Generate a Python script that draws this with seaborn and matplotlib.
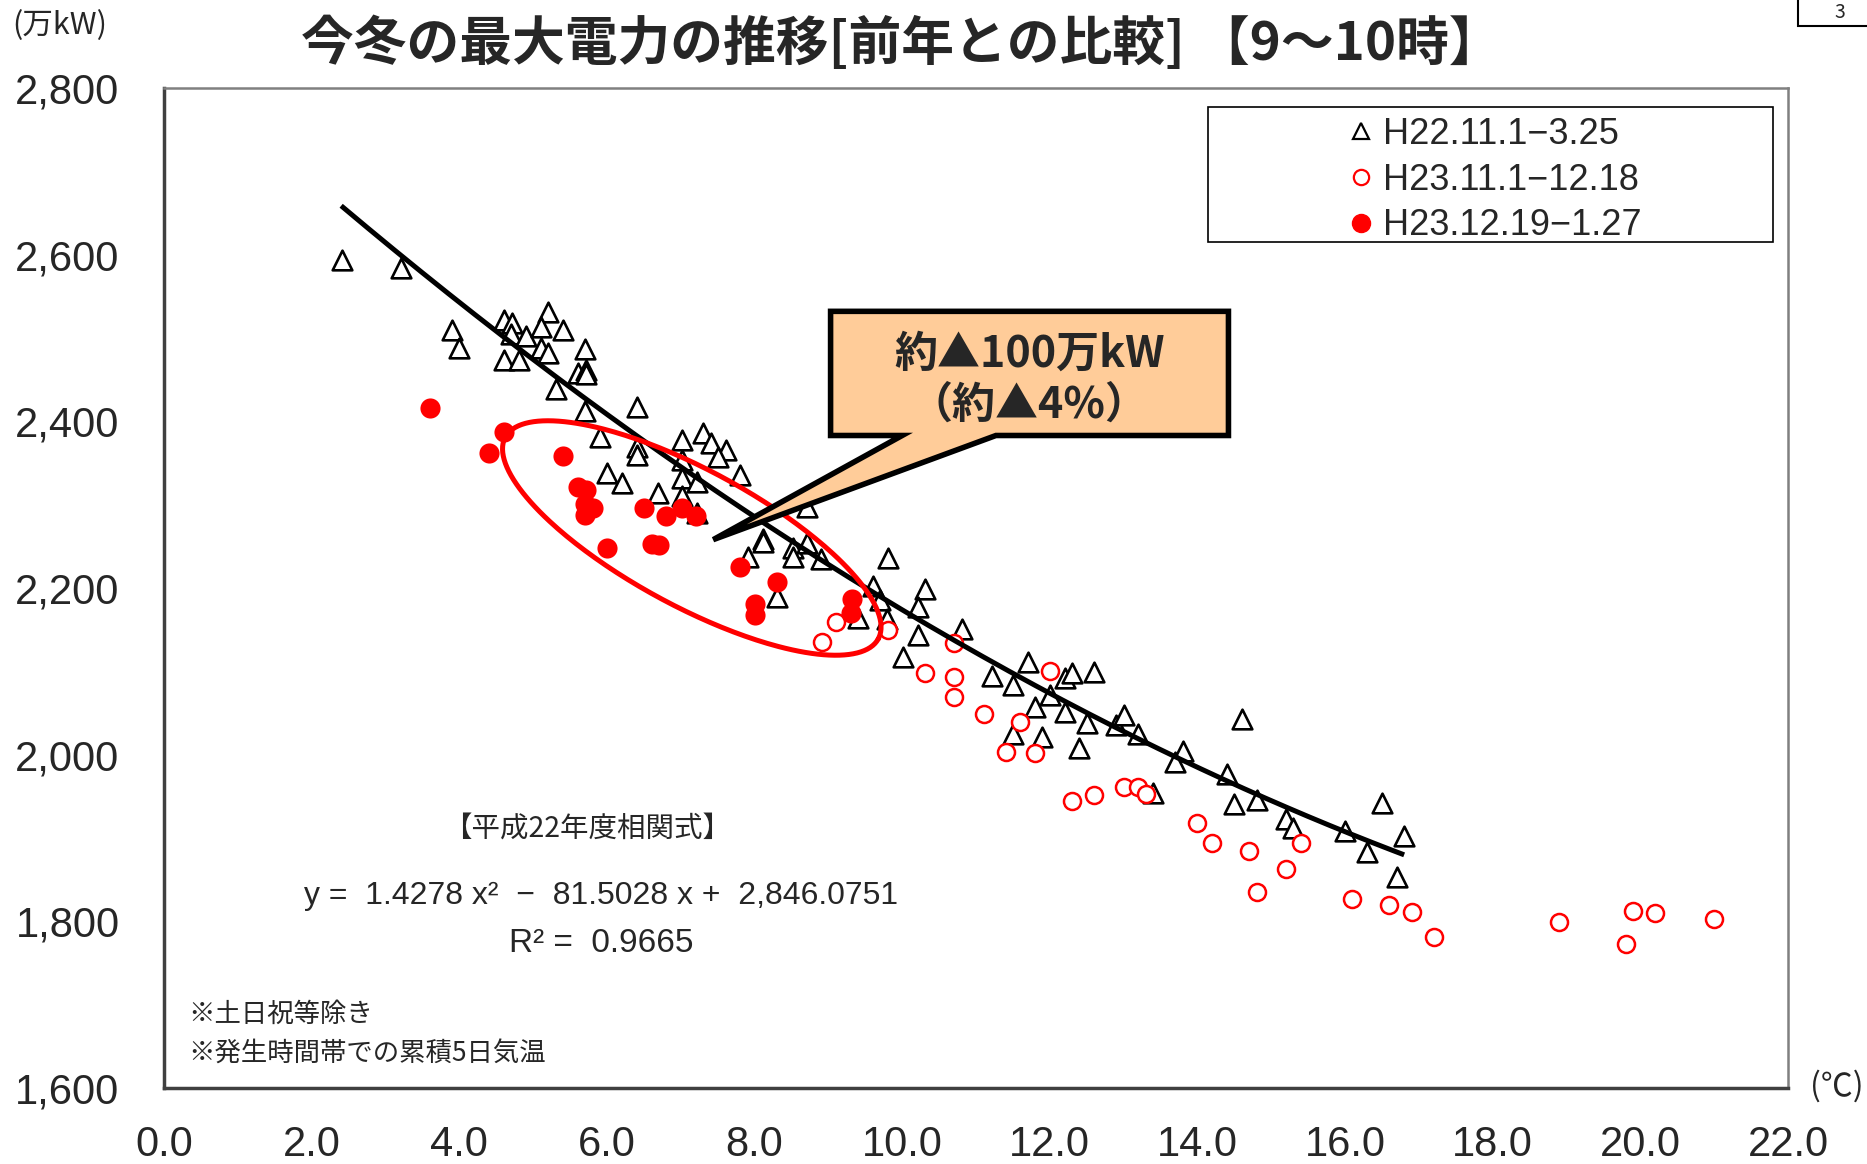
import numpy as np
import pandas as pd
import matplotlib
matplotlib.use("Agg")
import matplotlib.pyplot as plt
import seaborn as sns
from matplotlib.patches import Polygon, Rectangle
from matplotlib.lines import Line2D

# H22.11.1-3.25 (triangles)
h22_temp = [2.41, 3.21, 3.90, 4.00, 4.61, 4.71, 4.61, 4.81, 4.70, 4.91, 5.20, 5.11, 5.41, 5.11,
            5.20, 5.70, 5.61, 5.72, 5.72, 5.31, 5.70, 6.41, 5.91, 6.41, 6.41, 7.02, 7.30, 7.41,
            7.61, 7.50, 7.02, 7.80, 6.00, 6.20, 7.02, 6.69, 7.22, 7.02, 7.22, 8.11, 7.91,
            8.11, 8.52, 8.52, 8.71, 8.90, 8.30, 9.81, 9.61, 9.70, 9.40, 9.80, 10.31, 10.21,
            10.21, 10.01, 10.81, 11.22, 8.71,
            11.70, 11.50, 12.0, 12.2, 12.3, 12.6, 11.8, 12.2, 11.5, 11.9, 12.4, 12.5, 12.9,
            13.0, 13.2, 13.4, 13.8, 13.7, 14.4, 14.5, 14.6, 14.8, 15.2, 15.3, 16.0, 16.3,
            16.5, 16.8, 16.7]
h22_power = [2594, 2584, 2510, 2488, 2522, 2518, 2474, 2474, 2505, 2502, 2531, 2513, 2510, 2488,
             2482, 2487, 2458, 2462, 2457, 2439, 2412, 2417, 2381, 2369, 2360, 2378, 2386, 2374,
             2366, 2357, 2354, 2336, 2338, 2326, 2332, 2314, 2327, 2310, 2290, 2259, 2237,
             2255, 2248, 2237, 2254, 2235, 2189, 2236, 2202, 2186, 2164, 2163, 2199, 2177,
             2144, 2117, 2151, 2094, 2297,
             2111, 2084, 2072, 2092, 2098, 2099, 2057, 2051, 2025, 2021, 2008, 2038, 2036,
             2048, 2025, 1954, 2004, 1991, 1977, 1941, 2043, 1946, 1923, 1912, 1908, 1883,
             1942, 1902, 1853]

# H23.11.1-12.18 (open circles)
h23a_temp = [9.10, 8.91, 9.81, 10.70, 10.31, 10.70, 10.70, 11.11, 12.0, 11.6, 11.4, 11.8, 12.3,
             12.6, 13.0, 13.2, 13.3, 14.0, 14.2, 14.7, 15.4, 15.2, 14.8, 16.1, 16.6, 16.9,
             17.2, 18.9, 19.8, 19.9, 20.2, 21.0]
h23a_power = [2159, 2135, 2150, 2134, 2098, 2093, 2069, 2049, 2100, 2039, 2003, 2002, 1944,
              1952, 1961, 1961, 1953, 1918, 1894, 1884, 1894, 1863, 1835, 1827, 1820, 1811,
              1781, 1799, 1773, 1813, 1810, 1803]

# H23.12.19-1.27 (filled circles)
h23b_temp = [3.60, 4.61, 4.40, 5.41, 5.61, 5.72, 5.70, 5.81, 5.70, 6.50, 6.80, 7.02, 7.21,
             6.00, 6.61, 6.71, 7.80, 8.30, 8.01, 8.01, 9.32, 9.31]
h23b_power = [2416, 2387, 2362, 2359, 2321, 2318, 2301, 2296, 2288, 2296, 2286, 2296, 2286,
              2248, 2253, 2252, 2225, 2207, 2181, 2168, 2187, 2170]

# 平成22年度相関式
coef_a, coef_b, coef_c = 1.4278, -81.5028, 2846.0751
fit_range = (2.4, 16.8)

labels = ["H22.11.1−3.25", "H23.11.1−12.18", "H23.12.19−1.27"]
x_ticks = np.arange(0, 22.1, 2)
y_ticks = np.arange(1600, 2801, 200)

sns.set_theme(style="white")
plt.rcParams['font.family'] = ['Noto Sans CJK JP', 'DejaVu Sans']
num_font = 'Liberation Sans'

W, H = 1867, 1164
fig = plt.figure(figsize=(W / 100, H / 100), dpi=100)
ax = fig.add_axes([164 / W, 1 - 1088 / H, 1624 / W, 1000 / H])

df1 = pd.DataFrame({"temp": h22_temp, "power": h22_power})
df2 = pd.DataFrame({"temp": h23a_temp, "power": h23a_power})
df3 = pd.DataFrame({"temp": h23b_temp, "power": h23b_power})

sns.scatterplot(data=df1, x="temp", y="power", ax=ax, marker="^", s=200,
                color="white", edgecolor="black", linewidth=1.9, zorder=3)
sns.scatterplot(data=df2, x="temp", y="power", ax=ax, marker="o", s=150,
                color="white", edgecolor="red", linewidth=1.8, zorder=4)
sns.scatterplot(data=df3, x="temp", y="power", ax=ax, marker="o", s=210,
                color="red", edgecolor="red", linewidth=0, zorder=5)

xf = np.linspace(fit_range[0], fit_range[1], 200)
ax.plot(xf, coef_a * xf ** 2 + coef_b * xf + coef_c, color="black", lw=3.6,
        solid_capstyle="butt", zorder=6)

ax.set_xlim(0, 22)
ax.set_ylim(1600, 2800)
ax.set_xlabel("")
ax.set_ylabel("")
ax.set_xticks(x_ticks)
ax.set_xticklabels([f"{v:.1f}" for v in x_ticks], fontfamily=num_font, fontsize=30)
ax.set_yticks(y_ticks)
ax.set_yticklabels([f"{v:,}" for v in y_ticks], fontfamily=num_font, fontsize=30)
ax.tick_params(axis="x", direction="in", length=14, width=1.2, color="#404040", pad=27)
ax.tick_params(axis="y", direction="in", length=8, width=1.2, color="#404040", pad=32)
for side in ["left", "bottom"]:
    ax.spines[side].set_color("#404040")
    ax.spines[side].set_linewidth(2.5)
for side in ["top", "right"]:
    ax.spines[side].set_color("#808080")
    ax.spines[side].set_linewidth(1.8)

# red ellipse around the recent cold days
sx, sy = 1624 / 22, 1000 / 1200
cx, cy, ea, eb, th = 7.15, 2260, 212, 68, np.deg2rad(28.4)
t = np.linspace(0, 2 * np.pi, 300)
dxp = ea * np.cos(t) * np.cos(th) - eb * np.sin(t) * np.sin(th)
dyp = ea * np.cos(t) * np.sin(th) + eb * np.sin(t) * np.cos(th)
ax.plot(cx + dxp / sx, cy - dyp / sy, color="red", lw=3.6, zorder=7)

# callout
callout = [(9.03, 2532), (14.42, 2532), (14.42, 2383), (11.27, 2383), (7.44, 2258),
           (10.0, 2383), (9.03, 2383)]
ax.add_patch(Polygon(callout, closed=True, facecolor="#FFCC99", edgecolor="black",
                     lw=4, joinstyle="miter", zorder=8))
ax.text(11.72, 2481, "約▲100万kW", ha="center", va="center", fontsize=31,
        fontweight="bold", zorder=9)
ax.text(11.72, 2420, "（約▲4%）", ha="center", va="center", fontsize=31,
        fontweight="bold", zorder=9)

# legend
ax.add_patch(Rectangle((0.643, 0.846), 0.348, 0.135, transform=ax.transAxes,
                       facecolor="white", edgecolor="black", lw=1.2, zorder=8))
handles = [
    Line2D([], [], ls="", marker="^", ms=11, mfc="white", mec="black", mew=1.6),
    Line2D([], [], ls="", marker="o", ms=11, mfc="white", mec="red", mew=1.6),
    Line2D([], [], ls="", marker="o", ms=13, mfc="red", mec="red"),
]
leg = ax.legend(handles, labels, loc="center", bbox_to_anchor=(0.818, 0.908),
                frameon=False, prop={"family": num_font, "size": 26},
                handletextpad=0.1, handlelength=1.0, labelspacing=0.3)
leg.set_zorder(9)

# equation and notes
ax.text(5.73, 1911, "【平成22年度相関式】", ha="center", va="center", fontsize=20.5)
ax.text(5.92, 1830, "y =  1.4278 x²  −  81.5028 x +  2,846.0751", ha="center",
        va="center", fontsize=23, fontfamily=num_font)
ax.text(5.92, 1774, "R² =  0.9665", ha="center", va="center", fontsize=24,
        fontfamily=num_font)
ax.text(0.33, 1688, "※土日祝等除き", ha="left", va="center", fontsize=19)
ax.text(0.33, 1641, "※発生時間帯での累積5日気温", ha="left", va="center", fontsize=19)

fig.text(901 / W, 1 - 44 / H, "今冬の最大電力の推移[前年との比較] 【9～10時】",
         ha="center", va="center", fontsize=38, fontweight="bold")
fig.text(12 / W, 1 - 26 / H, "(万kW)", ha="left", va="center", fontsize=22)
fig.text(1810 / W, 1 - 1086 / H, "(℃)", ha="left", va="center", fontsize=23)

# page number box at top right (cut off in the original)
fig.patches.append(Rectangle((1798 / W, 1 - 26 / H), 0.06, 0.05, transform=fig.transFigure,
                             facecolor="white", edgecolor="black", lw=1.5))
fig.text(1840 / W, 1 - 13 / H, "3", ha="center", va="center", fontsize=14)

fig.savefig("out.png", dpi=100, facecolor="white")
